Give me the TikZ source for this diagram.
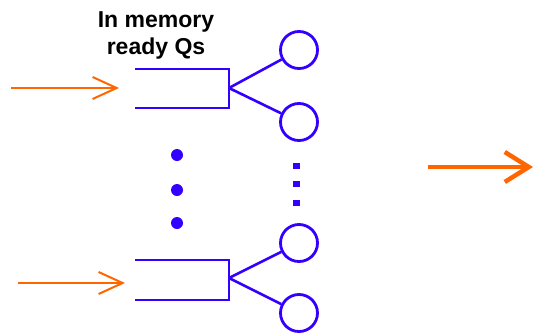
\documentclass[tikz,border=0pt]{standalone}
\usepackage{fontspec}
\setmainfont{Liberation Sans}
\usetikzlibrary{arrows.meta}
\definecolor{qblue}{RGB}{51,0,255}
\definecolor{qorange}{RGB}{255,102,0}
\begin{document}
\begin{tikzpicture}[x=1pt,y=-1pt,
  srv/.style={circle,draw=qblue,line width=2.8pt,minimum size=37pt,inner sep=0pt},
  queue/.style={draw=qblue,line width=1.6pt},
  fork/.style={draw=qblue,line width=2.6pt},
  inarrow/.style={draw=qorange,line width=1.6pt,-{Straight Barb[length=24pt,width=22pt,line width=2pt]}},
  outarrow/.style={draw=qorange,line width=4pt,-{Straight Barb[length=24pt,width=30pt,line width=4.5pt]}},
  bigdot/.style={circle,fill=qblue,inner sep=0pt,minimum size=12pt},
  smalldot/.style={rectangle,fill=qblue,inner sep=0pt,minimum width=7pt,minimum height=6pt},
  lbl/.style={font=\bfseries\fontsize{23}{27}\selectfont,align=center,inner sep=0pt}]
\useasboundingbox (0,0) rectangle (533,335);
% label
\node[lbl] (label) at (156,35) {In memory\\ready Qs};
% top queue
\coordinate (q1tl) at (135,69);
\coordinate (q1tr) at (229,69);
\coordinate (q1br) at (229,108);
\coordinate (q1bl) at (135,108);
\coordinate (q1f) at (229,88);
\draw[queue] (q1tl) -- (q1tr) -- (q1br) -- (q1bl);
% bottom queue
\coordinate (q2tl) at (135,260);
\coordinate (q2tr) at (229,260);
\coordinate (q2br) at (229,300);
\coordinate (q2bl) at (135,300);
\coordinate (q2f) at (229,278);
\draw[queue] (q2tl) -- (q2tr) -- (q2br) -- (q2bl);
% servers
\node[srv] (c1) at (299,50) {};
\node[srv] (c2) at (299,122) {};
\node[srv] (c3) at (299,243) {};
\node[srv] (c4) at (299,313) {};
\draw[fork] (q1f) -- (c1);
\draw[fork] (q1f) -- (c2);
\draw[fork] (q2f) -- (c3);
\draw[fork] (q2f) -- (c4);
% input arrows
\coordinate (a1s) at (11,88);
\coordinate (a1e) at (119,88);
\coordinate (a2s) at (18,283);
\coordinate (a2e) at (125,283);
\draw[inarrow] (a1s) -- (a1e);
\draw[inarrow] (a2s) -- (a2e);
% output arrow
\coordinate (os) at (428,167);
\coordinate (oe) at (533,167);
\draw[outarrow] (os) -- (oe);
% ellipsis dots
\node[bigdot] (d1) at (177,155) {};
\node[bigdot] (d2) at (177,190) {};
\node[bigdot] (d3) at (177,223) {};
\node[smalldot] (s1) at (296,166) {};
\node[smalldot] (s2) at (296,184) {};
\node[smalldot] (s3) at (296,203) {};
\end{tikzpicture}
\end{document}
